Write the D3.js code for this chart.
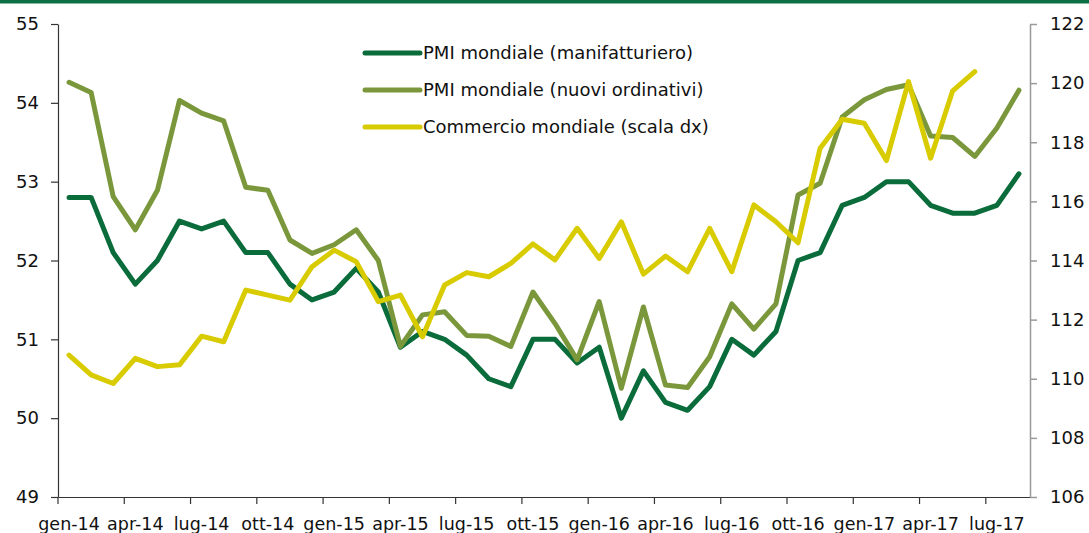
<!DOCTYPE html>
<html lang="it">
<head>
<meta charset="UTF-8">
<title>PMI e commercio mondiale</title>
<script src="https://cdn.jsdelivr.net/npm/d3@7"></script>
<style>
  body { margin: 0; background: #fff; }
  svg { display: block; font-family: "DejaVu Sans", sans-serif; }
</style>
</head>
<body>
<div id="container"></div>
<script>
// categorie: mesi da gen-14 a ago-17
let monthNames = ['gen','feb','mar','apr','mag','giu','lug','ago','set','ott','nov','dic'];
let years = ['14','15','16','17'];
let months = [];
years.forEach(y => monthNames.forEach(m => months.push(m + '-' + y)));
months = months.slice(0, 44);

// serie
let pmiManif = [52.8,52.8,52.1,51.7,52.0,52.5,52.4,52.5,52.1,52.1,51.7,51.5,
  51.6,51.9,51.6,50.9,51.1,51.0,50.8,50.5,50.4,51.0,51.0,50.7,
  50.9,50.0,50.6,50.2,50.1,50.4,51.0,50.8,51.1,52.0,52.1,52.7,
  52.8,53.0,53.0,52.7,52.6,52.6,52.7,53.1];
let pmiOrdini = [54.26,54.13,52.81,52.39,52.89,54.03,53.87,53.77,52.93,52.89,52.26,52.09,
  52.2,52.39,52.0,50.91,51.31,51.35,51.05,51.04,50.91,51.6,51.2,50.74,
  51.48,50.38,51.41,50.42,50.39,50.78,51.45,51.13,51.45,52.83,52.98,53.82,
  54.04,54.17,54.23,53.58,53.56,53.32,53.68,54.16];
let commercio = [110.8,110.13,109.84,110.69,110.41,110.47,111.44,111.25,113.0,112.83,112.66,113.79,
  114.35,113.96,112.61,112.83,111.42,113.17,113.59,113.45,113.9,114.56,114.02,115.09,
  114.07,115.31,113.54,114.15,113.62,115.09,113.62,115.88,115.31,114.6,117.8,118.78,
  118.64,117.38,120.05,117.46,119.74,120.39];

let leftTicks = [49,50,51,52,53,54,55];
let rightTicks = [106,108,110,112,114,116,118,120,122];
let seriesNames = ['PMI mondiale (manifatturiero)','PMI mondiale (nuovi ordinativi)','Commercio mondiale (scala dx)'];
let colors = ['#0a6b3b','#7a983b','#d8cb00'];

let W = 1089, H = 533;
let mLeft = 58, mRight = 1030, mTop = 24, mBottom = 497;

let svg = d3.select('#container')
  .append('svg')
  .attr('width', W)
  .attr('height', H);

// barra verde in alto
svg.append('rect')
  .attr('x', 0).attr('y', 0)
  .attr('width', W).attr('height', 3.5)
  .attr('fill', '#0b7044');

let x = d3.scaleBand().domain(months).range([mLeft, mRight]).padding(0);
let bw = x.bandwidth();
let yL = d3.scaleLinear().domain([49, 55]).range([mBottom, mTop]);
let yR = d3.scaleLinear().domain([106, 122]).range([mBottom, mTop]);

// asse x
let xAxis = svg.append('g')
  .attr('transform', 'translate(0,' + mBottom + ')')
  .call(d3.axisBottom(x)
    .tickValues(months.filter((d, i) => i % 3 == 0))
    .tickSize(7)
    .tickSizeOuter(0)
    .tickPadding(14));
xAxis.select('.domain').attr('stroke', '#333').attr('stroke-width', 1.2);
xAxis.selectAll('.tick line')
  .attr('x1', -bw / 2).attr('x2', -bw / 2)
  .attr('stroke', '#333').attr('stroke-width', 1.2);
xAxis.selectAll('.tick text')
  .attr('fill', '#111')
  .style('font-size', '17.5px')
  .style('font-family', '"DejaVu Sans", sans-serif');

// asse sinistro
let yAxisL = svg.append('g')
  .attr('transform', 'translate(' + mLeft + ',0)')
  .call(d3.axisLeft(yL).tickValues(leftTicks).tickSize(7).tickSizeOuter(0).tickPadding(12)
    .tickFormat(d3.format('d')));
yAxisL.select('.domain').attr('stroke', '#333').attr('stroke-width', 1.2);
yAxisL.selectAll('.tick line').attr('stroke', '#333').attr('stroke-width', 1.2);
yAxisL.selectAll('.tick text')
  .attr('fill', '#111')
  .style('font-size', '18px')
  .style('font-family', '"DejaVu Sans", sans-serif');

// asse destro
let yAxisR = svg.append('g')
  .attr('transform', 'translate(' + mRight + ',0)')
  .call(d3.axisRight(yR).tickValues(rightTicks).tickSize(7).tickSizeOuter(0).tickPadding(13)
    .tickFormat(d3.format('d')));
yAxisR.select('.domain').attr('stroke', '#999').attr('stroke-width', 1.5);
yAxisR.selectAll('.tick line').attr('stroke', '#999').attr('stroke-width', 1.5);
yAxisR.selectAll('.tick text')
  .attr('fill', '#111')
  .style('font-size', '18px')
  .style('font-family', '"DejaVu Sans", sans-serif');

// linee
let cx = i => x(months[i]) + bw / 2;
let lineL = d3.line().x((d, i) => cx(i)).y(d => yL(d));
let lineR = d3.line().x((d, i) => cx(i)).y(d => yR(d));

let series = [
  { values: pmiManif, line: lineL },
  { values: pmiOrdini, line: lineL },
  { values: commercio, line: lineR }
];

series.forEach((s, k) => {
  svg.append('path')
    .datum(s.values)
    .attr('d', s.line)
    .attr('fill', 'none')
    .attr('stroke', colors[k])
    .attr('stroke-width', 5)
    .attr('stroke-linejoin', 'round')
    .attr('stroke-linecap', 'round');
});

// legenda
let legend = svg.append('g');
seriesNames.forEach((name, k) => {
  let ly = 53 + k * 37;
  legend.append('line')
    .attr('x1', 365).attr('x2', 420)
    .attr('y1', ly).attr('y2', ly)
    .attr('stroke', colors[k])
    .attr('stroke-width', 5)
    .attr('stroke-linecap', 'round');
  legend.append('text')
    .attr('x', 423).attr('y', ly)
    .attr('dy', '0.35em')
    .attr('fill', '#111')
    .style('font-size', '18px')
    .text(name);
});
</script>
</body>
</html>
